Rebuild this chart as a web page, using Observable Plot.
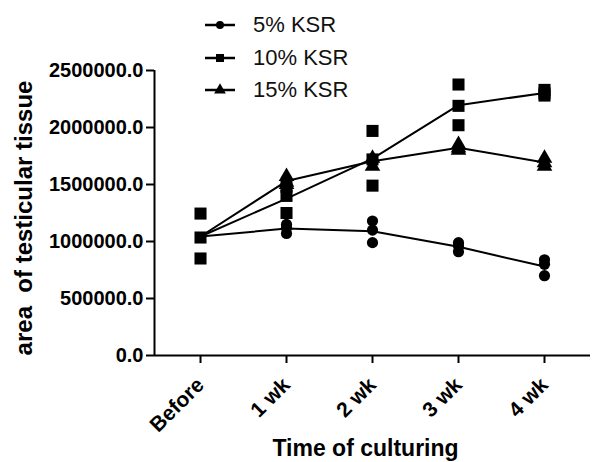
<!DOCTYPE html>
<html>
<head>
<meta charset="utf-8">
<script src="https://cdn.jsdelivr.net/npm/d3@7"></script>
<script src="https://cdn.jsdelivr.net/npm/@observablehq/plot@0.6"></script>
<style>
  html, body { margin: 0; padding: 0; background: #fff; }
  #wrap { position: relative; width: 593px; height: 462px; font-family: "Liberation Sans", Arial, Helvetica, sans-serif; }
  #wrap svg.plot { position: absolute; left: 0; top: 0; }
  #legend { position: absolute; left: 200px; top: 9px; }
  .lrow { position: relative; height: 32.5px; display: flex; align-items: center; }
  .lrow svg { width: 40px; height: 32px; display: block; }
  .lrow span { font-size: 22px; color: #111; margin-left: 13px; line-height: 32px; }
</style>
</head>
<body>
<div id="wrap"></div>
<script>
// Data
const times = ["Before", "1 wk", "2 wk", "3 wk", "4 wk"];
const seriesNames = ["5% KSR", "10% KSR", "15% KSR"];
const ksr5 = [
  [1245000, 1035000, 851000],
  [1150000, 1120000, 1070000],
  [1180000, 1100000, 990000],
  [990000, 960000, 910000],
  [840000, 800000, 700000]
];
const ksr10 = [
  [1245000, 1035000, 851000],
  [1480000, 1400000, 1250000],
  [1970000, 1720000, 1490000],
  [2377000, 2190000, 2020000],
  [2330000, 2300000, 2280000]
];
const ksr15 = [
  [1245000, 1035000, 851000],
  [1570000, 1520000, 1500000],
  [1730000, 1720000, 1660000],
  [1850000, 1820000, 1800000],
  [1730000, 1690000, 1660000]
];
const yTicks = [0, 500000, 1000000, 1500000, 2000000, 2500000];
const symbols = ["circle", "square", "triangle"];
const radii = [5.6, 6.8, 5.8];

const groups = [ksr5, ksr10, ksr15];
const points = [];
const means = [];
groups.forEach((g, si) => {
  g.forEach((vals, ti) => {
    vals.forEach(v => points.push({series: seriesNames[si], si, t: ti, v}));
    means.push({series: seriesNames[si], si, t: ti, v: d3.mean(vals)});
  });
});
// identical points shared by several series are drawn once (as the square on top)
const shown = points.filter(d => d.si === 1 ||
  !points.some(p => p.si === 1 && p.t === d.t && p.v === d.v));

const xDomain = [-0.535, 4.535];

const chart = Plot.plot({
  width: 593,
  height: 462,
  marginLeft: 154,
  marginRight: 3,
  marginTop: 70,
  marginBottom: 107,
  style: {fontFamily: '"Liberation Sans", Arial, Helvetica, sans-serif', color: "#000", background: "#fff"},
  x: {type: "linear", domain: xDomain},
  y: {domain: [0, 2500000]},
  marks: [
    Plot.ruleY([0], {strokeWidth: 2, stroke: "#000"}),
    Plot.ruleX([xDomain[0]], {y1: 0, y2: 2500000, strokeWidth: 2, stroke: "#000"}),
    Plot.axisY({ticks: yTicks, tickFormat: d => d.toFixed(1), tickSize: 8, tickPadding: 3,
      fontSize: 20, fontWeight: "bold", strokeWidth: 2, label: null}),
    Plot.axisX({ticks: [0, 1, 2, 3, 4], tickFormat: i => times[i], tickRotate: -45, tickSize: 8,
      tickPadding: 18, fontSize: 21, fontWeight: "bold", strokeWidth: 2, label: null}),
    Plot.lineY(means, {x: "t", y: "v", z: "series", stroke: "#000", strokeWidth: 2}),
    ...[0, 2, 1].map(si => Plot.dot(shown.filter(d => d.si === si), {
      x: "t", y: "v", symbol: () => symbols[si], r: radii[si], fill: "#000", stroke: "none"
    })),
    Plot.text(["area  of testicular tissue"], {frameAnchor: "left", dx: -130, dy: 5, rotate: -90,
      fontSize: 24, fontWeight: "bold", fill: "#000", text: d => d, textAnchor: "middle", lineAnchor: "middle"}),
    Plot.text(["Time of culturing"], {frameAnchor: "bottom", dx: -7, dy: 93,
      fontSize: 23, fontWeight: "bold", fill: "#000", text: d => d, textAnchor: "middle", lineAnchor: "middle"})
  ]
});
chart.classList.add("plot");
const wrap = document.getElementById("wrap");
wrap.appendChild(chart);

// Legend
const legend = d3.select(wrap).append("div").attr("id", "legend");
seriesNames.forEach((name, si) => {
  const row = legend.append("div").attr("class", "lrow");
  const s = row.append("svg").attr("viewBox", "0 0 40 32");
  s.append("line").attr("x1", 5).attr("x2", 35).attr("y1", 16).attr("y2", 16)
    .attr("stroke", "#000").attr("stroke-width", 2.5);
  const sym = [d3.symbolCircle, d3.symbolSquare, d3.symbolTriangle][si];
  s.append("path").attr("d", d3.symbol(sym, [50, 64, 60][si])())
    .attr("transform", "translate(20,16)").attr("fill", "#000");
  row.append("span").text(name);
});
</script>
</body>
</html>
